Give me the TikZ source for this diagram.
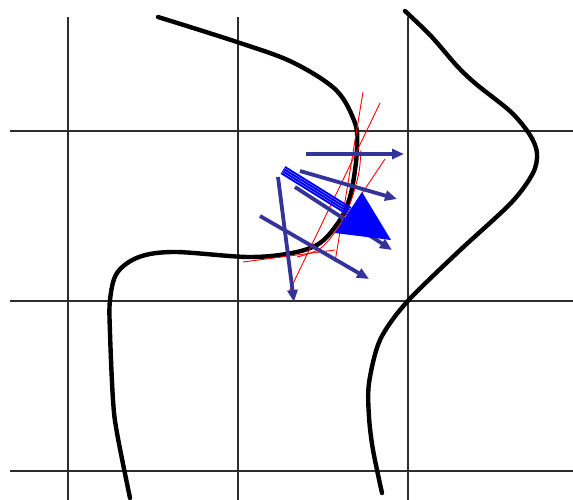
\documentclass[tikz,border=0pt]{standalone}
\usetikzlibrary{arrows.meta,calc}
\definecolor{GridGray}{RGB}{45,45,45}
\definecolor{FlowNavy}{RGB}{51,51,153}
\definecolor{PureBlue}{RGB}{0,0,255}
\tikzset{
  gridline/.style={draw=GridGray,line width=1.3pt},
  contour/.style={draw=black,line width=4.4pt,line cap=round},
  tangent/.style={draw=red,line width=0.9pt},
  vec/.style={draw=FlowNavy,line width=3.8pt,
    -{Triangle[length=12pt,width=10pt]}},
  bundle/.style={draw=PureBlue,line width=2pt}
}
\begin{document}
\begin{tikzpicture}[x=1pt,y=-1pt]
      \useasboundingbox[fill=white] (0,0) rectangle (573,500);
      % grid
      \foreach \gx in {68,238,408}{
        \draw[gridline] (\gx,17) -- (\gx,500);
      }
      \foreach \gy in {131,301,471}{
        \draw[gridline] (10,\gy) -- (573,\gy);
      }
      % curves
      \draw[contour] plot[smooth,tension=0.55] coordinates {(158,17) (237,42)
        (292,62) (336,90) (355,123) (357,147) (355,170) (350,197) (340,220)
        (320,243) (292,253) (248,257) (175,252) (139,257) (117,273) (110,300)
        (110,333) (113,400) (117,433) (130,498)};
      \draw[contour] plot[smooth,tension=0.5] coordinates {(405,11) (431,36)
        (457,66) (476,84) (511,112) (530,135) (537,153) (533,173) (511,203)
        (457,253) (406,303) (380,340) (369,383) (369,417) (373,450) (382,493)};
      % tangents
      \draw[tangent] (363,92) -- (335,262);
      \draw[tangent] (380,103) -- (289,292);
      \draw[tangent] (385,159) -- (343,222);
      \draw[tangent] (243,262) -- (335,250);
      \draw[tangent] plot[smooth] coordinates {(361,150) (359,172) (352,198)
        (342,222) (321,248) (297,257)};
      % vectors
      \draw[vec] (306,154) -- (404,154);
      \draw[vec] (300,171) -- (397,199);
      \draw[vec] (278,177) -- (294,302);
      \draw[vec] (260,216) -- (369,279);
      \draw[vec] (295,187) -- (392,250);
      \foreach \off in {-3.6,-1.2,1.2,3.6}{
        \draw[bundle] ($(283,170)+(\off*-0.533,\off*0.845)$) --
          ($(349,211)+(\off*-0.533,\off*0.845)$);
      }
      \fill[PureBlue] (362,192) -- (335,233) -- (391,240) -- cycle;
    \end{tikzpicture}
\end{document}
